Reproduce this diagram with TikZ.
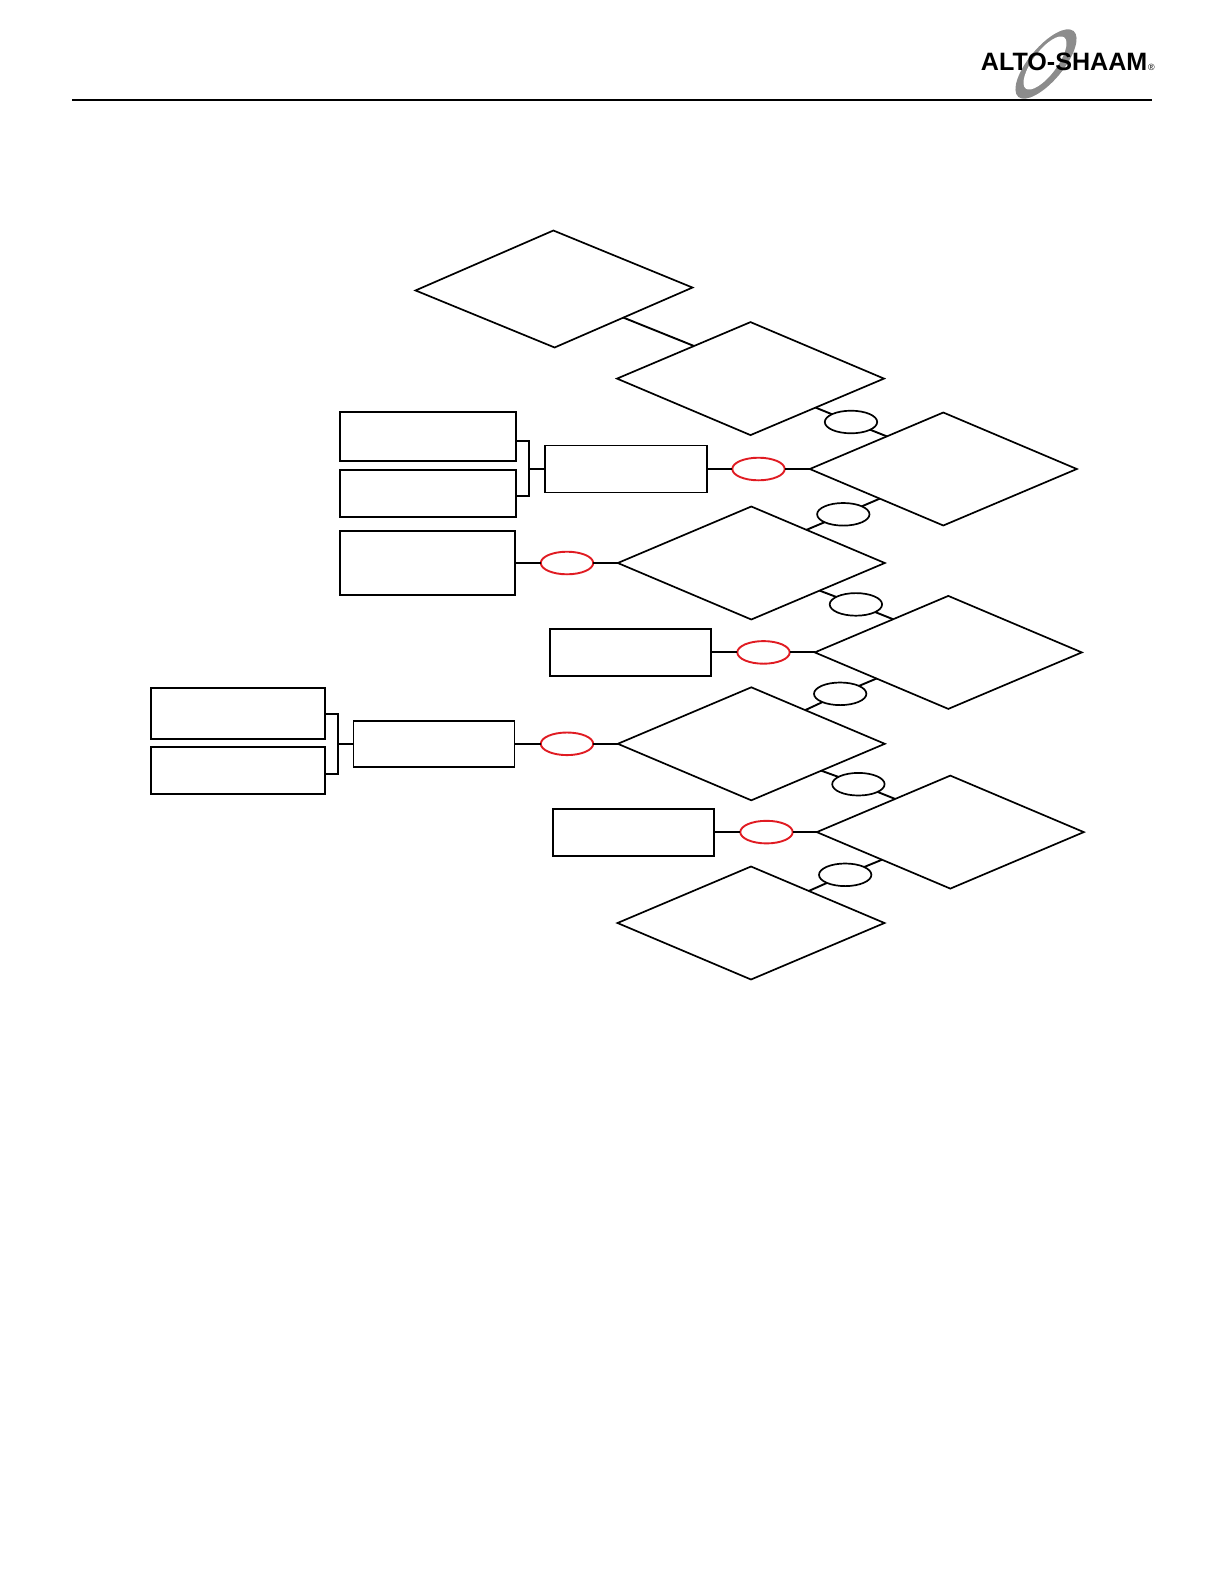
\documentclass[tikz,border=0pt]{standalone}
\usepackage{fontspec}
\usepackage{tikz}
\usetikzlibrary{shapes.geometric}
\setsansfont{Liberation Sans}
\definecolor{Flow}{HTML}{E01B22}
\definecolor{Swoosh}{HTML}{8C8C8C}

\begin{document}
\begin{tikzpicture}[
    x=0.5bp,y=-0.5bp,
    decision/.style={diamond,draw,line width=0.85pt,inner sep=0pt,outer sep=0pt,
      minimum width=133.5bp,minimum height=56.5bp},
    action/.style={rectangle,draw,line width=0.95pt,inner sep=0pt,outer sep=0pt},
    answer/.style={ellipse,draw,line width=0.85pt,fill=white,inner sep=0pt,outer sep=0pt,
      minimum width=26.2bp,minimum height=11.3bp},
    fail/.style={answer,draw=Flow,line width=0.95pt},
    link/.style={line width=0.95pt}
  ]
    \useasboundingbox (0,0) rectangle (1224,1584);

    % page header
    \coordinate (ruleL) at (72,100);
    \coordinate (ruleR) at (1152,100);
    \draw[line width=1pt] (ruleL) -- (ruleR);
    \fill[Swoosh,rotate around={50:(1046,64)}] (1046,64) ellipse (43 and 17);
    \fill[white,rotate around={53:(1045,63)}] (1045,63) ellipse (32 and 12);
    \node[font=\sffamily\bfseries\fontsize{12.6}{12.6}\selectfont,inner sep=0pt,anchor=base west] (logo) at (980.5,70) {ALTO-SHAAM};
    \node[font=\sffamily\fontsize{4.5}{4.5}\selectfont,inner sep=0pt,anchor=base west] (logoreg) at (logo.base east) {®};

    % decisions
    \node[decision,rotate=0.6,minimum width=138.5bp,minimum height=58.5bp] (start) at (554,289) {};
    \node[decision] (dTwo) at (750.5,378.6) {};
    \node[decision] (dThree) at (943.3,469) {};
    \node[decision] (dFour) at (751.3,563) {};
    \node[decision] (dFive) at (948.3,652.4) {};
    \node[decision] (dSix) at (751.3,743.8) {};
    \node[decision] (dSeven) at (950.3,832.1) {};
    \node[decision] (dEight) at (751,923) {};

    % actions
    \node[action,minimum width=88bp,minimum height=24.5bp] (aOne) at (428,436.5) {};
    \node[action,minimum width=88bp,minimum height=23.5bp] (aTwo) at (428,493.5) {};
    \node[action,minimum width=81bp,minimum height=23.5bp] (aThree) at (626,469) {};
    \node[action,minimum width=87.5bp,minimum height=32bp] (aFour) at (427.5,563) {};
    \node[action,minimum width=80.5bp,minimum height=23.5bp] (aFive) at (630.2,652.4) {};
    \node[action,minimum width=87bp,minimum height=25.5bp] (aSix) at (238,713.5) {};
    \node[action,minimum width=87bp,minimum height=23.5bp] (aSeven) at (238,770.5) {};
    \node[action,minimum width=80.5bp,minimum height=23bp] (aEight) at (434,743.8) {};
    \node[action,minimum width=80.5bp,minimum height=23.5bp] (aNine) at (633.2,832.1) {};

    % answers
    \node[answer] (yOne) at (851,422) {};
    \node[answer] (yTwo) at (843.3,514.3) {};
    \node[answer] (yThree) at (855.9,604.4) {};
    \node[answer] (yFour) at (840.2,693.8) {};
    \node[answer] (yFive) at (858.4,784.2) {};
    \node[answer] (ySix) at (845.2,874.8) {};
    \node[fail] (nOne) at (758.5,469) {};
    \node[fail] (nTwo) at (567,563) {};
    \node[fail] (nThree) at (763.5,652.4) {};
    \node[fail] (nFour) at (567,743.8) {};
    \node[fail] (nFive) at (766.5,832.1) {};

    % connectors
    \draw[link] (start.337) -- (dTwo.150);
    \draw[link] (dTwo.336) -- (yOne) -- (dThree.150);
    \draw[link] (dThree.205) -- (yTwo) -- (dFour.31);
    \draw[link] (dFour.338) -- (yThree) -- (dFive.149);
    \draw[link] (dFive.200.8) -- (yFour) -- (dSix.32);
    \draw[link] (dSix.339) -- (yFive) -- (dSeven.149);
    \draw[link] (dSeven.202) -- (ySix) -- (dEight.29);
    \draw[link] (aThree) -- (nOne) -- (dThree);
    \draw[link] (aFour) -- (nTwo) -- (dFour);
    \draw[link] (aFive) -- (nThree) -- (dFive);
    \draw[link] (aEight) -- (nFour) -- (dSix);
    \draw[link] (aNine) -- (nFive) -- (dSeven);

    % brackets
    \coordinate (joinOne) at (529,469);
    \coordinate (joinTwo) at (338,743.8);
    \draw[link] (aOne.east |- 0,441) -| (joinOne) |- (aTwo.east |- 0,496);
    \draw[link] (joinOne) -- (aThree.west |- joinOne);
    \draw[link] (aSix.east |- 0,713.7) -| (joinTwo) |- (aSeven.east |- 0,774);
    \draw[link] (joinTwo) -- (aEight.west |- joinTwo);
  \end{tikzpicture}
\end{document}
